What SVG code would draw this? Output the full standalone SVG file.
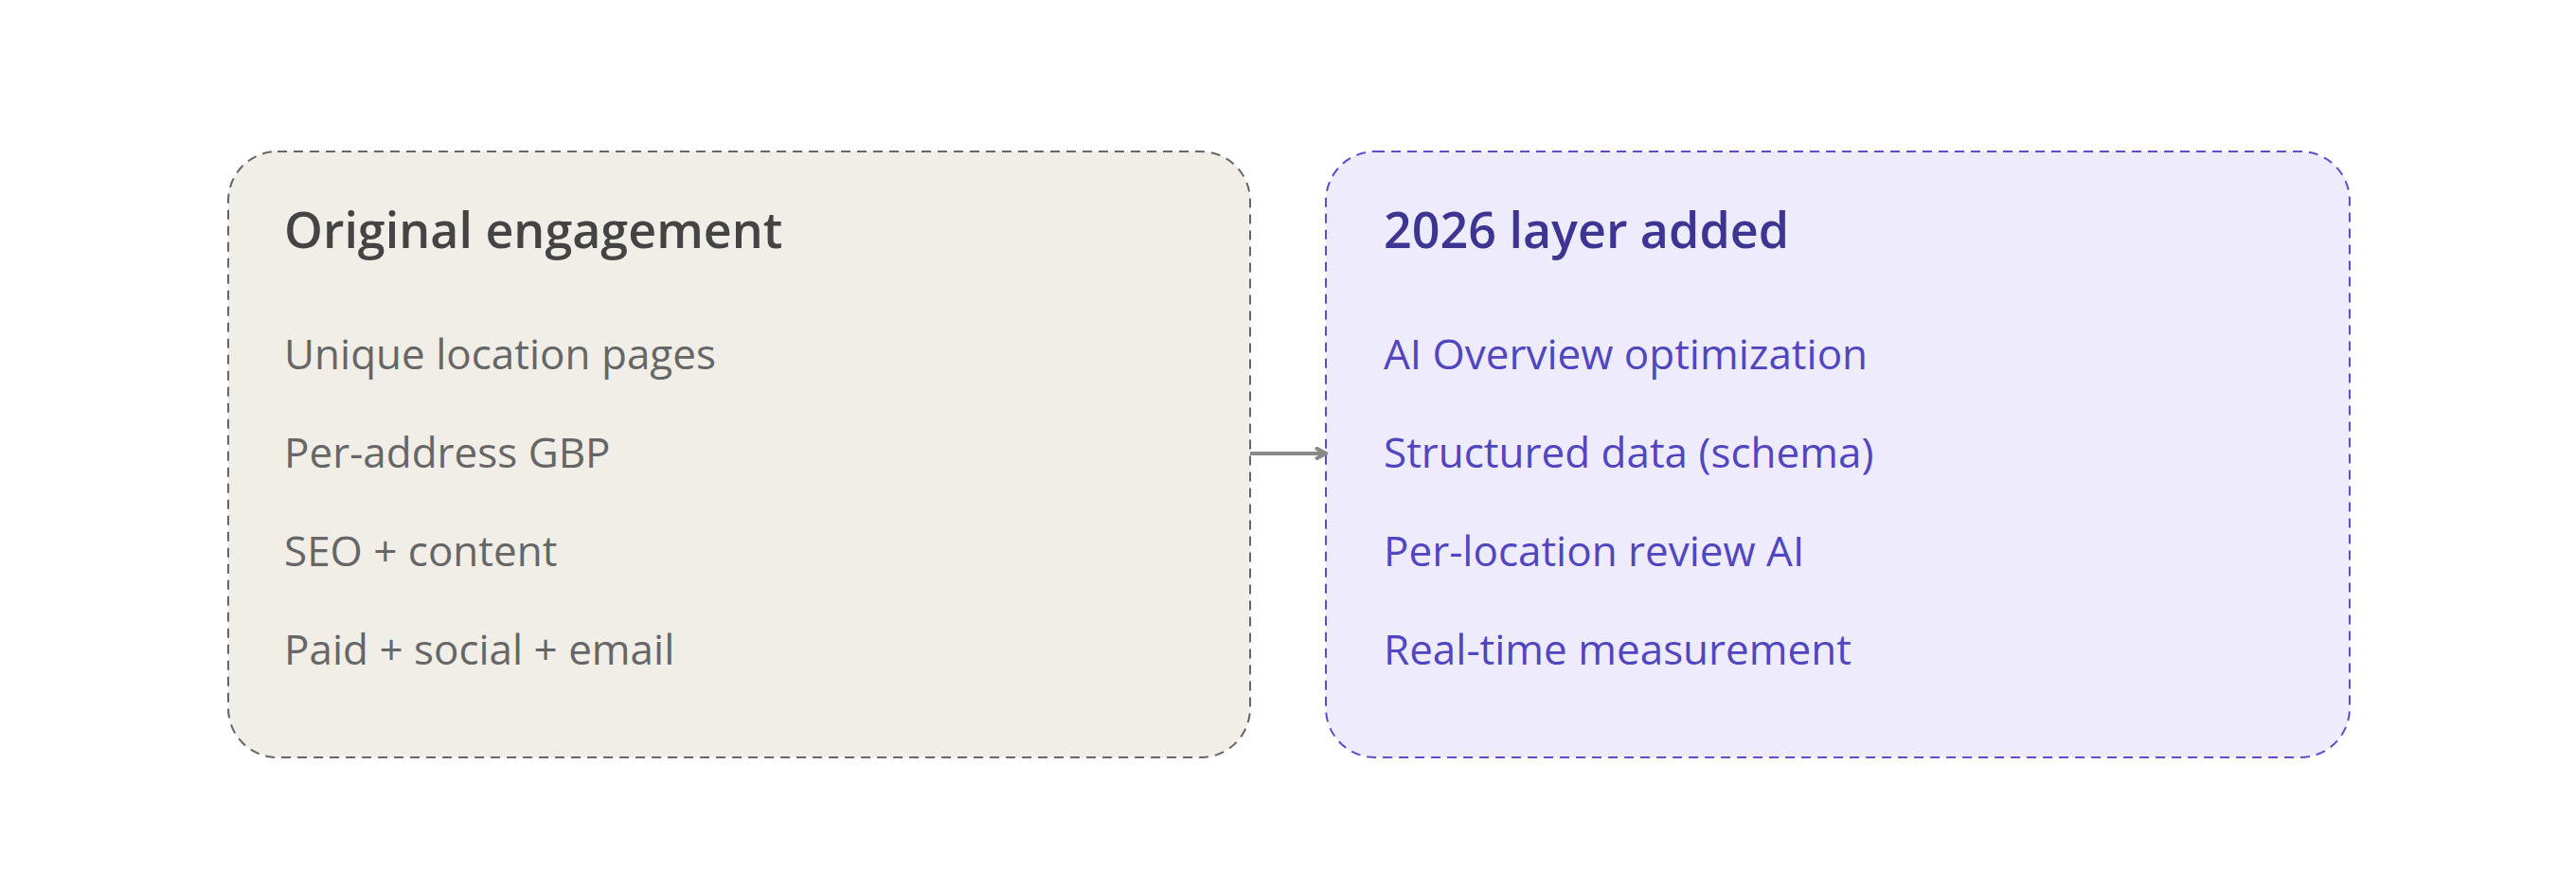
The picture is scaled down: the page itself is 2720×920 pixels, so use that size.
<svg xmlns="http://www.w3.org/2000/svg" width="2720" height="920" viewBox="0 0 2720 920">
<defs>
<style>
.t{font-family:"Segoe UI","Open Sans","Noto Sans",sans-serif;font-weight:600;font-size:52px}
.i{font-family:"Segoe UI","Open Sans","Noto Sans",sans-serif;font-size:44px}
</style>
<marker id="a" markerWidth="14" markerHeight="14" refX="12" refY="7" orient="auto" markerUnits="userSpaceOnUse" viewBox="0 0 14 14"><path d="M1,1 L12,7 L1,13" fill="none" stroke="#888" stroke-width="4"/></marker>
</defs>
<rect width="2720" height="920" fill="#fff"/>
<g id="original">
<rect x="241" y="160" width="1079" height="640" rx="52" fill="#f1eee8" stroke="#666" stroke-width="2" stroke-dasharray="10,7"/>
<text class="t" x="300" y="262" fill="#444">Original engagement</text>
<g class="i" fill="#666"><text x="300" y="390">Unique location pages</text><text x="300" y="494">Per-address GBP</text><text x="300" y="598">SEO + content</text><text x="300" y="702">Paid + social + email</text></g>
</g>
<g id="layer2026">
<rect x="1400" y="160" width="1081" height="640" rx="52" fill="#eeecfc" stroke="#5a4fc8" stroke-width="2" stroke-dasharray="10,7"/>
<text class="t" x="1461" y="262" fill="#3e3592">2026 layer added</text>
<g class="i" fill="#5146c0"><text x="1461" y="390">AI Overview optimization</text><text x="1461" y="494">Structured data (schema)</text><text x="1461" y="598">Per-location review AI</text><text x="1461" y="702">Real-time measurement</text></g>
</g>
<g id="connectors">
<line x1="1320" y1="479" x2="1400" y2="479" stroke="#888" stroke-width="4" marker-end="url(#a)"/>
</g>
</svg>
